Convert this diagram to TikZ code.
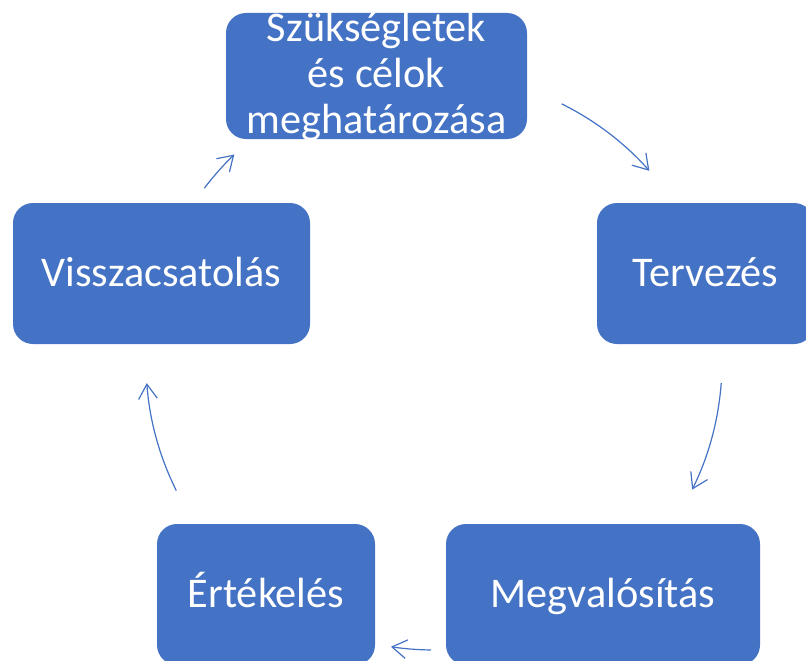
\documentclass[tikz,border=0pt]{standalone}
\usepackage{fontspec}
\setmainfont{Carlito}
\usetikzlibrary{arrows.meta,calc}
\definecolor{kek}{RGB}{68,114,196}

\begin{document}
\begin{tikzpicture}[x=0.75pt,y=-0.75pt,
    doboz/.style={fill=kek, rounded corners=15pt, text=white, inner sep=0pt,
        font=\fontsize{31.7}{34.5}\selectfont},
    egysor/.style={doboz, minimum height=105.75pt, text height=22pt, text depth=2pt},
    nyil/.style={draw=kek, line width=0.9pt, -{Straight Barb[length=11pt,width=14pt]}}]

    % Keret
    \useasboundingbox (0,0) rectangle (806,660);
    \clip (0,0) rectangle (806,660);

    % Dobozok
    \node[doboz, align=center, minimum width=225.75pt, minimum height=94.5pt, inner ysep=-6pt]
        (szuks) at (376.5,76) {Szükségletek\\és célok\\meghatározása};
    \node[egysor, minimum width=162.75pt] (terv) at (705.5,273.5) {Tervezés};
    \node[egysor, minimum width=235.5pt] (megval) at (603,594.5) {Megvalósítás};
    \node[egysor, minimum width=163.5pt] (ertek) at (266,594.5) {Értékelés};
    \node[egysor, minimum width=222.75pt] (vissza) at (161.5,273.5) {Visszacsatolás};

    % Kör középpontja és sugara
    \def\R{288}
    \coordinate (O) at (434,362);
    \coordinate (k1) at ($(O)+(-63.7:\R)$);
    \coordinate (k2) at ($(O)+(4.2:\R)$);
    \coordinate (k3) at ($(O)+(90.6:\R)$);
    \coordinate (k4) at ($(O)+(153.5:\R)$);
    \coordinate (k5) at ($(O)+(217.1:\R)$);

    % Nyilak
    \draw[nyil] (k1) arc[start angle=-63.7, end angle=-41.6, radius=\R];
    \draw[nyil] (k2) arc[start angle=4.2, end angle=26.3, radius=\R];
    \draw[nyil] (k3) arc[start angle=90.6, end angle=98.6, radius=\R];
    \draw[nyil] (k4) arc[start angle=153.5, end angle=175.8, radius=\R];
    \draw[nyil] (k5) arc[start angle=217.1, end angle=226.1, radius=\R];

\end{tikzpicture}
\end{document}
